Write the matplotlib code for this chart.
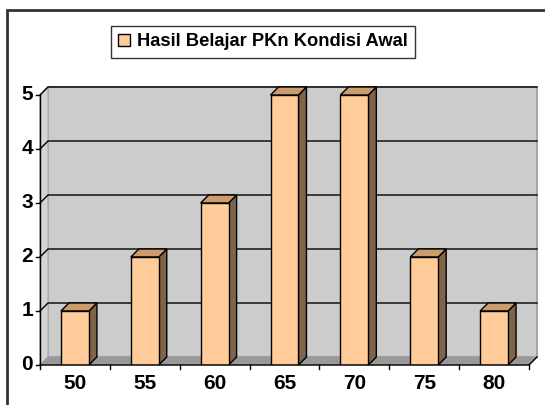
import matplotlib.pyplot as plt
from matplotlib.patches import Polygon, Rectangle

# data
nilai = ['50', '55', '60', '65', '70', '75', '80']
jumlah = [1, 2, 3, 5, 5, 2, 1]
yticks = [0, 1, 2, 3, 4, 5]
judul = 'Hasil Belajar PKn Kondisi Awal'

plt.rcParams['font.family'] = ['Liberation Sans', 'DejaVu Sans']

fig = plt.figure(figsize=(5.45, 4.05), dpi=100)
fig.patches.append(Rectangle((7/545, -0.1), 1.2, (405-10)/405 + 0.1, transform=fig.transFigure,
                             fill=False, edgecolor='#333333', linewidth=2))

ax = fig.add_axes([40/545, 40/405, 489/545, 270/405])
n = len(nilai)
ax.set_xlim(-0.5, n - 0.5)
ax.set_ylim(0, 5)
ax.axis('off')

# depth offset in data units
dx = 8 / (489 / n)
dy = 8 / 54
x0, x1 = -0.5, n - 0.5
ytop = max(yticks)

# walls and floor
ax.add_patch(Polygon([(x0 + dx, dy), (x1 + dx, dy), (x1 + dx, ytop + dy), (x0 + dx, ytop + dy)],
                     closed=True, facecolor='#cccccc', edgecolor='#a6a6a6', lw=1.5, clip_on=False, zorder=1))
ax.add_patch(Polygon([(x0, 0), (x0 + dx, dy), (x0 + dx, ytop + dy), (x0, ytop)],
                     closed=True, facecolor='#d4d4d4', edgecolor='#b0b0b0', lw=1, clip_on=False, zorder=1))
ax.add_patch(Polygon([(x0, 0), (x1, 0), (x1 + dx, dy), (x0 + dx, dy)],
                     closed=True, facecolor='#999999', edgecolor='#999999', lw=0.5, clip_on=False, zorder=1))

# gridlines
for k in yticks[1:]:
    ax.plot([x0, x0 + dx, x1 + dx], [k, k + dy, k + dy], color='black', lw=1, clip_on=False, zorder=2)

# bars
w = 0.4
for i, v in enumerate(jumlah):
    l, r = i - w / 2, i + w / 2
    ax.add_patch(Polygon([(r, 0), (r + dx, dy), (r + dx, v + dy), (r, v)], closed=True,
                         facecolor='#806449', edgecolor='black', lw=1, clip_on=False, zorder=3))
    ax.add_patch(Polygon([(l, v), (r, v), (r + dx, v + dy), (l + dx, v + dy)], closed=True,
                         facecolor='#cc9c6c', edgecolor='black', lw=1, clip_on=False, zorder=3))
bars = ax.bar(range(n), jumlah, width=w, color='#ffcc99', edgecolor='black', lw=1, zorder=4)

# axes
ax.plot([x0, x0], [0, ytop], color='black', lw=1, clip_on=False, zorder=5)
ax.plot([x0, x1, x1 + dx], [0, 0, dy], color='black', lw=1, clip_on=False, zorder=5)
for k in yticks:
    ax.plot([x0 - 0.06, x0], [k, k], color='black', lw=1, clip_on=False, zorder=5)
    ax.text(x0 - 0.1, k, str(k), ha='right', va='center', fontsize=15, fontweight='bold')
for i in range(n + 1):
    ax.plot([i - 0.5, i - 0.5], [0, -0.08], color='black', lw=1, clip_on=False, zorder=5)
for i, lab in enumerate(nilai):
    ax.text(i, -0.34, lab, ha='center', va='center', fontsize=15, fontweight='bold')

leg = fig.legend([bars], [judul], loc='center', bbox_to_anchor=(263/545, 1 - 42/405),
                 prop={'weight': 'bold', 'size': 13.2}, frameon=True, fancybox=False,
                 handlelength=0.65, handleheight=0.65, handletextpad=0.35, borderpad=0.42)
leg.get_frame().set_edgecolor('black')
leg.get_frame().set_linewidth(1)

fig.savefig('out.png', dpi=100)
